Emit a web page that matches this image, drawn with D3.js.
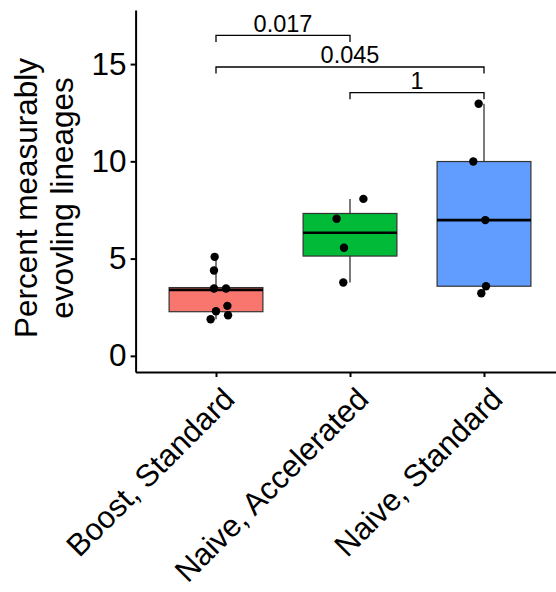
<!DOCTYPE html>
<html>
<head>
<meta charset="utf-8">
<script src="https://cdn.jsdelivr.net/npm/d3@7"></script>
<style>
  html, body { margin: 0; padding: 0; background: #fff; }
  svg { display: block; font-family: "Liberation Sans", Arial, Helvetica, sans-serif; }
</style>
</head>
<body>
<svg id="chart" width="556" height="592"></svg>
<script>
// ---- data ----
const categories = ["Boost, Standard", "Naive, Accelerated", "Naive, Standard"];
const colors = ["#F8766D", "#00BA38", "#619CFF"];

const pointsBoost = [5.09, 4.39, 3.46, 3.46, 2.57, 2.29, 2.09, 1.88];
const pointsAccel = [8.07, 7.05, 5.56, 3.77];
const pointsNaive = [12.96, 9.99, 6.98, 3.58, 3.22];
// horizontal jitter, in category units
const jitterBoost = [-0.01, -0.015, -0.015, 0.075, 0.085, 0.0, 0.09, -0.04];
const jitterAccel = [0.1, -0.1, -0.045, -0.05];
const jitterNaive = [-0.04, -0.08, 0.01, 0.015, -0.02];

const boxQ1 = [2.27, 5.13, 3.58];
const boxMedian = [3.39, 6.33, 6.98];
const boxQ3 = [3.51, 7.32, 9.99];
const whiskerLow = [1.88, 3.77, 3.22];
const whiskerHigh = [5.09, 8.07, 12.96];

const yTicks = [0, 5, 10, 15];
const yTitle = ["Percent measurably", "evovling lineages"];

const compPairs = [[0, 1], [0, 2], [1, 2]];
const compLabels = ["0.017", "0.045", "1"];
const compY = [16.48, 14.85, 13.53];
const compTick = 0.34;

// ---- layout ----
const svg = d3.select("#chart");
const x = d3.scaleLinear().domain([0.4, 3.6]).range([135.6, 564.4]);
const y = d3.scaleLinear().domain([-0.83, 17.78]).range([372, 10]);
const boxW = 0.7;
const pos = i => i + 1;
const FS = 31.5;

const groups = [
  {pts: pointsBoost, jit: jitterBoost},
  {pts: pointsAccel, jit: jitterAccel},
  {pts: pointsNaive, jit: jitterNaive}
];

// boxes
categories.forEach((c, i) => {
  const g = svg.append("g");
  g.append("line")
    .attr("x1", x(pos(i))).attr("x2", x(pos(i)))
    .attr("y1", y(boxQ3[i])).attr("y2", y(whiskerHigh[i]))
    .attr("stroke", "#222").attr("stroke-width", 1.2);
  g.append("line")
    .attr("x1", x(pos(i))).attr("x2", x(pos(i)))
    .attr("y1", y(boxQ1[i])).attr("y2", y(whiskerLow[i]))
    .attr("stroke", "#222").attr("stroke-width", 1.2);
  g.append("rect")
    .attr("x", x(pos(i) - boxW / 2))
    .attr("width", x(pos(i) + boxW / 2) - x(pos(i) - boxW / 2))
    .attr("y", y(boxQ3[i]))
    .attr("height", y(boxQ1[i]) - y(boxQ3[i]))
    .attr("fill", colors[i]).attr("stroke", "#333").attr("stroke-width", 1.2);
  g.append("line")
    .attr("x1", x(pos(i) - boxW / 2)).attr("x2", x(pos(i) + boxW / 2))
    .attr("y1", y(boxMedian[i])).attr("y2", y(boxMedian[i]))
    .attr("stroke", "#000").attr("stroke-width", 2.6);
});

// points
groups.forEach((grp, i) => {
  svg.append("g").selectAll("circle")
    .data(grp.pts)
    .join("circle")
    .attr("cx", (d, j) => x(pos(i) + grp.jit[j]))
    .attr("cy", d => y(d))
    .attr("r", 4.2)
    .attr("fill", "#000");
});

// comparison brackets
compPairs.forEach((p, k) => {
  const x1 = x(pos(p[0])), x2 = x(pos(p[1]));
  const yy = y(compY[k]), yb = y(compY[k] - compTick);
  svg.append("path")
    .attr("d", `M${x1},${yb}V${yy}H${x2}V${yb}`)
    .attr("fill", "none").attr("stroke", "#000").attr("stroke-width", 1.3);
  svg.append("text")
    .attr("x", (x1 + x2) / 2).attr("y", yy - 3.5)
    .attr("text-anchor", "middle")
    .attr("font-size", 23.5)
    .attr("fill", "#000")
    .text(compLabels[k]);
});

// y axis
const yAxis = svg.append("g")
  .attr("transform", `translate(${x(0.4)},0)`)
  .call(d3.axisLeft(y).tickValues(yTicks).tickSize(5).tickSizeOuter(0).tickPadding(4));
yAxis.select(".domain").attr("stroke-width", 2);
yAxis.selectAll(".tick line").attr("stroke-width", 2);
yAxis.selectAll(".tick text").attr("font-size", FS).attr("font-family", "Liberation Sans, Arial, sans-serif").attr("fill", "#000");

// x axis
const xAxis = svg.append("g")
  .attr("transform", `translate(0,${y(-0.83)})`)
  .call(d3.axisBottom(x).tickValues([1, 2, 3]).tickFormat(d => categories[d - 1]).tickSize(5).tickSizeOuter(0));
xAxis.select(".domain").attr("stroke-width", 2);
xAxis.selectAll(".tick line").attr("stroke-width", 2);
xAxis.selectAll(".tick text")
  .attr("font-size", 31).attr("font-family", "Liberation Sans, Arial, sans-serif").attr("fill", "#000")
  .attr("text-anchor", "end")
  .attr("dy", null)
  .attr("y", 0)
  .attr("transform", "translate(20,29) rotate(-45)");

// y title
const yt = svg.append("text")
  .attr("transform", `translate(0,${198}) rotate(-90)`)
  .attr("text-anchor", "middle")
  .attr("font-size", FS)
  .attr("fill", "#000");
yTitle.forEach((t, k) => {
  yt.append("tspan").attr("x", 0).attr("y", 37 + k * 36).text(t);
});
</script>
</body>
</html>
